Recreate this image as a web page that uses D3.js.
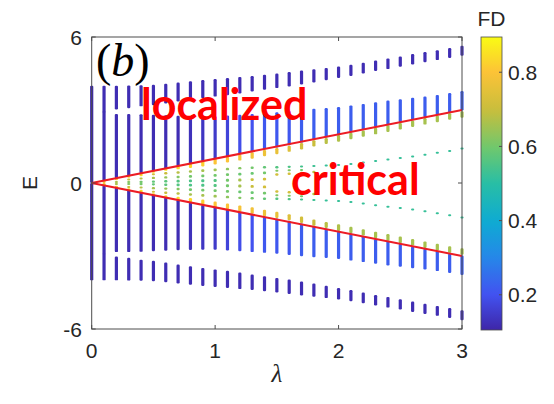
<!DOCTYPE html>
<html>
<head>
<meta charset="utf-8">
<script src="https://cdn.jsdelivr.net/npm/d3@7"></script>
<style>
  body { margin: 0; background: #fff; }
  text { font-family: "Liberation Sans", Arial, sans-serif; fill: #262626; }
</style>
</head>
<body>
<svg id="chart" width="554" height="404"></svg>
<script>
// Spectrum E versus quasiperiodic strength lambda, coloured by fractal dimension (FD).
const lambdas = [0, 0.1, 0.2, 0.3, 0.4, 0.5, 0.6, 0.7, 0.8, 0.9, 1.0,
                 1.1, 1.2, 1.3, 1.4, 1.5, 1.6, 1.7, 1.8, 1.9, 2.0,
                 2.1, 2.2, 2.3, 2.4, 2.5, 2.6, 2.7, 2.8, 2.9, 3.0];

// Outermost localized band, |E| range (mirrored to negative E)
const outerLo = [0, 2.9, 3.02, 3.07, 3.15, 3.2, 3.27, 3.35, 3.42, 3.49, 3.55,
                 3.61, 3.68, 3.76, 3.83, 3.9, 3.97, 4.05, 4.13, 4.22, 4.32,
                 4.4, 4.5, 4.6, 4.68, 4.78, 4.87, 4.96, 5.05, 5.14, 5.23];
const outerHi = [4.0, 4.0, 4.0, 4.01, 4.02, 4.04, 4.08, 4.13, 4.18, 4.23, 4.27,
                 4.31, 4.36, 4.4, 4.45, 4.5, 4.56, 4.62, 4.67, 4.73, 4.79,
                 4.86, 4.94, 5.03, 5.12, 5.2, 5.3, 5.38, 5.46, 5.55, 5.64];
const outerFD = [0.11, 0.12, 0.12, 0.12, 0.12, 0.12, 0.12, 0.12, 0.12, 0.12, 0.12,
                 0.12, 0.12, 0.12, 0.12, 0.12, 0.12, 0.12, 0.12, 0.12, 0.12,
                 0.12, 0.12, 0.12, 0.12, 0.12, 0.12, 0.12, 0.12, 0.12, 0.12];

// Inner localized band, between the mobility edge and the gap
const innerLo = [null, 0.1, 0.2, 0.3, 0.4, 0.5, 0.6, 0.7, 0.8, 0.9, 0.98,
                 1.08, 1.19, 1.27, 1.38, 1.46, 1.55, 1.66, 1.78, 1.87, 2.0,
                 2.08, 2.18, 2.3, 2.4, 2.5, 2.6, 2.7, 2.8, 2.9, 2.98];
const innerHi = [null, 2.95, 2.84, 2.84, 2.83, 2.8, 2.78, 2.76, 2.75, 2.74, 2.74,
                 2.77, 2.8, 2.84, 2.87, 2.91, 2.96, 3.01, 3.05, 3.08, 3.12,
                 3.19, 3.25, 3.32, 3.39, 3.44, 3.5, 3.55, 3.62, 3.7, 3.78];
const innerFD = [null, 0.12, 0.12, 0.12, 0.12, 0.12, 0.12, 0.12, 0.13, 0.14, 0.15,
                 0.17, 0.19, 0.2, 0.21, 0.21, 0.21, 0.22, 0.22, 0.22, 0.22,
                 0.22, 0.22, 0.22, 0.22, 0.22, 0.22, 0.22, 0.22, 0.22, 0.22];

// Critical states inside |E| < lambda: [|E| low, |E| high, FD]
const criticalStates = [
  [],
  [[0.0, 0.1, 0.78]],
  [[0.0, 0.08, 0.66], [0.11, 0.2, 0.82]],
  [[0.0, 0.08, 0.62], [0.12, 0.19, 0.7], [0.22, 0.3, 0.84]],
  [[0.0, 0.09, 0.6], [0.14, 0.23, 0.68], [0.28, 0.4, 0.84]],
  [[0.01, 0.1, 0.58], [0.16, 0.26, 0.66], [0.32, 0.4, 0.72], [0.42, 0.5, 0.85]],
  [[0.02, 0.12, 0.57], [0.18, 0.28, 0.64], [0.35, 0.45, 0.7], [0.5, 0.6, 0.85]],
  [[0.02, 0.13, 0.56], [0.2, 0.3, 0.62], [0.38, 0.48, 0.68], [0.56, 0.7, 0.84]],
  [[0.03, 0.14, 0.55], [0.22, 0.33, 0.6], [0.42, 0.52, 0.66], [0.62, 0.8, 0.83]],
  [[0.03, 0.15, 0.55], [0.24, 0.35, 0.6], [0.45, 0.56, 0.66], [0.68, 0.9, 0.82]],
  [[0.04, 0.16, 0.56], [0.26, 0.37, 0.6], [0.48, 0.6, 0.65], [0.76, 1.0, 0.8]],
  [[0.05, 0.17, 0.6], [0.29, 0.4, 0.6], [0.52, 0.63, 0.63], [0.84, 1.08, 0.8]],
  [[0.06, 0.18, 0.66], [0.31, 0.42, 0.59], [0.56, 0.66, 0.62], [0.92, 1.17, 0.79]],
  [[0.08, 0.2, 0.7], [0.34, 0.45, 0.59], [0.58, 0.68, 0.6], [1.0, 1.26, 0.78]],
  [[0.1, 0.22, 0.72], [0.36, 0.47, 0.6], [0.6, 0.7, 0.58], [1.1, 1.36, 0.77]],
  [[0.3, 0.4, 0.72], [0.46, 0.54, 0.62], [0.6, 0.7, 0.56], [1.18, 1.44, 0.76]],
  [[0.33, 0.43, 0.72], [0.48, 0.56, 0.62], [0.62, 0.71, 0.55], [1.28, 1.53, 0.74]],
  [[0.36, 0.46, 0.7], [0.5, 0.58, 0.6], [0.64, 0.72, 0.54], [1.38, 1.64, 0.72]],
  [[0.4, 0.5, 0.68], [0.66, 0.74, 0.53], [1.5, 1.76, 0.7]],
  [[0.68, 0.76, 0.52], [1.6, 1.85, 0.68]],
  [[0.7, 0.78, 0.52], [1.7, 1.97, 0.67]],
  [[0.74, 0.82, 0.52], [1.8, 2.06, 0.66]],
  [[0.8, 0.88, 0.52], [1.9, 2.16, 0.66]],
  [[0.87, 0.95, 0.52], [2.0, 2.27, 0.66]],
  [[0.93, 1.01, 0.52], [2.1, 2.37, 0.66]],
  [[0.99, 1.07, 0.52], [2.2, 2.47, 0.66]],
  [[1.05, 1.13, 0.52], [2.3, 2.57, 0.66]],
  [[1.12, 1.2, 0.52], [2.4, 2.67, 0.66]],
  [[1.2, 1.28, 0.52], [2.5, 2.77, 0.66]],
  [[1.28, 1.36, 0.52], [2.6, 2.87, 0.66]],
  [[1.38, 1.46, 0.52], [2.68, 2.95, 0.66]]
];

// Mobility edges E = ±lambda
const edgeLambda = [0, 3];

const xTicks = [0, 1, 2, 3];
const yTicks = [-6, 0, 6];
const fdTicks = [0.2, 0.4, 0.6, 0.8];
const fdRange = [0.105, 0.895];

// Parula-like colour map
const parulaStops = [
  [0.00, "#3e26a8"], [0.12, "#4252f0"], [0.25, "#2588e8"], [0.37, "#0eabd2"],
  [0.50, "#28bea5"], [0.62, "#6ec86e"], [0.75, "#c8be3c"], [0.88, "#fcc337"],
  [1.00, "#f9fb14"]
];
const parula = d3.scaleLinear()
  .domain(parulaStops.map(d => d[0]))
  .range(parulaStops.map(d => d[1]))
  .interpolate(d3.interpolateRgb)
  .clamp(true);
const fdToT = d3.scaleLinear().domain(fdRange).range([0, 1]).clamp(true);
const color = fd => parula(fdToT(fd));

const svg = d3.select("#chart");
const x = d3.scaleLinear().domain([0, 3]).range([91.7, 462]);
const y = d3.scaleLinear().domain([-6, 6]).range([329, 37]);

// Assemble all spectral segments, mirrored in E
const segments = [];
lambdas.forEach((l, i) => {
  const add = (lo, hi, fd) => {
    segments.push({ l, lo, hi, fd });
    segments.push({ l, lo: -hi, hi: -lo, fd });
  };
  add(outerLo[i], outerHi[i], outerFD[i]);
  if (innerLo[i] != null) add(innerLo[i], innerHi[i], innerFD[i]);
  criticalStates[i].forEach(([lo, hi, fd]) => add(lo, hi, fd));
});

svg.append("g").selectAll("rect").data(segments).join("rect")
  .attr("x", d => x(d.l) - 1.6)
  .attr("width", 3.2)
  .attr("y", d => y(d.hi))
  .attr("height", d => Math.max(2, y(d.lo) - y(d.hi)))
  .attr("rx", 1.2)
  .attr("fill", d => color(d.fd));

// Mobility edge lines
const edgeLine = d3.line().x(d => x(d[0])).y(d => y(d[1]));
[1, -1].forEach(s => {
  svg.append("path")
    .attr("d", edgeLine(edgeLambda.map(l => [l, s * l])))
    .attr("fill", "none")
    .attr("stroke", "#ec1c24")
    .attr("stroke-width", 2);
});

// Axes box with inward ticks
const axisColor = "#4d4d4d";
svg.append("rect")
  .attr("x", x(0)).attr("y", y(6))
  .attr("width", x(3) - x(0)).attr("height", y(-6) - y(6))
  .attr("fill", "none").attr("stroke", axisColor).attr("stroke-width", 1);

const tickLen = 4;
xTicks.forEach(t => {
  svg.append("line").attr("x1", x(t)).attr("x2", x(t))
    .attr("y1", y(-6)).attr("y2", y(-6) - tickLen).attr("stroke", axisColor);
  svg.append("line").attr("x1", x(t)).attr("x2", x(t))
    .attr("y1", y(6)).attr("y2", y(6) + tickLen).attr("stroke", axisColor);
  svg.append("text").attr("x", x(t)).attr("y", 358)
    .attr("text-anchor", "middle").attr("font-size", 21).text(t);
});
yTicks.forEach(t => {
  svg.append("line").attr("x1", x(0)).attr("x2", x(0) + tickLen)
    .attr("y1", y(t)).attr("y2", y(t)).attr("stroke", axisColor);
  svg.append("line").attr("x1", x(3)).attr("x2", x(3) - tickLen)
    .attr("y1", y(t)).attr("y2", y(t)).attr("stroke", axisColor);
  svg.append("text").attr("x", 82).attr("y", y(t) + 7.5)
    .attr("text-anchor", "end").attr("font-size", 21).text(t);
});

// Axis labels
svg.append("text")
  .attr("transform", `translate(37,${y(0)}) rotate(-90)`)
  .attr("text-anchor", "middle").attr("font-size", 21).text("E");
svg.append("text")
  .attr("x", (x(0) + x(3)) / 2).attr("y", 382)
  .attr("text-anchor", "middle")
  .style("font-family", "'Liberation Serif', 'Times New Roman', serif")
  .style("font-style", "italic").attr("font-size", 25).text("λ");

// Panel tag
const tag = svg.append("text").attr("x", 96).attr("y", 76)
  .style("font-family", "'Liberation Serif', 'Times New Roman', serif")
  .attr("font-size", 46).style("fill", "#000");
tag.append("tspan").text("(");
tag.append("tspan").style("font-style", "italic").text("b");
tag.append("tspan").text(")");

// Region annotations
svg.append("text").attr("x", 141).attr("y", 120)
  .style("font-family", "Lato, 'Open Sans', sans-serif").style("font-weight", 700)
  .attr("font-size", 43).style("fill", "#ff0000").text("localized");
svg.append("text").attr("x", 291).attr("y", 195)
  .style("font-family", "Lato, 'Open Sans', sans-serif").style("font-weight", 700)
  .attr("font-size", 43).style("fill", "#ff0000").text("critical");

// Colour bar
const cbX = 481, cbW = 21;
const cb = d3.scaleLinear().domain(fdRange).range([330, 37]);
const defs = svg.append("defs");
const grad = defs.append("linearGradient").attr("id", "fdGrad")
  .attr("x1", 0).attr("x2", 0).attr("y1", 1).attr("y2", 0);
d3.range(0, 1.0001, 0.02).forEach(t => {
  grad.append("stop").attr("offset", t).attr("stop-color", parula(t));
});
svg.append("rect").attr("x", cbX).attr("y", cb(fdRange[1]))
  .attr("width", cbW).attr("height", cb(fdRange[0]) - cb(fdRange[1]))
  .attr("fill", "url(#fdGrad)").attr("stroke", axisColor).attr("stroke-width", 0.8);
fdTicks.forEach(t => {
  svg.append("line").attr("x1", cbX + cbW).attr("x2", cbX + cbW - 3)
    .attr("y1", cb(t)).attr("y2", cb(t)).attr("stroke", axisColor);
  svg.append("text").attr("x", 508).attr("y", cb(t) + 7.5)
    .attr("font-size", 21).text(t.toFixed(1));
});
svg.append("text").attr("x", cbX + cbW / 2).attr("y", 26)
  .attr("text-anchor", "middle").attr("font-size", 21).text("FD");
</script>
</body>
</html>
